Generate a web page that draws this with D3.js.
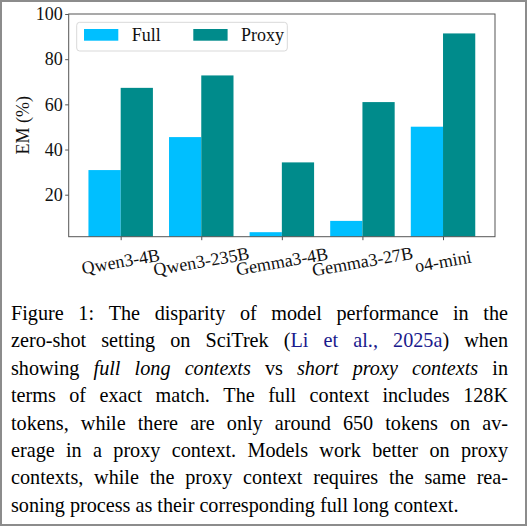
<!DOCTYPE html>
<html>
<head>
<meta charset="utf-8">
<script src="https://cdn.jsdelivr.net/npm/d3@7"></script>
<style>
  body { margin: 0; background: #fff; }
  svg { display: block; font-family: "Liberation Serif", "Times New Roman", serif; }
</style>
</head>
<body>
<div id="chart"></div>
<script>
// Chart data
var models = ["Qwen3-4B", "Qwen3-235B", "Gemma3-4B", "Gemma3-27B", "o4-mini"];
var fullScores = [30.9, 45.5, 3.4, 8.4, 50.1];
var proxyScores = [67.3, 72.8, 34.3, 61.0, 91.4];
var seriesNames = ["Full", "Proxy"];
var seriesColors = ["#00bfff", "#008b8b"];
var yTicks = [20, 40, 60, 80, 100];

// Caption lines: *...* italic, {...} citation link
var captionLines = [
  "Figure 1: The disparity of model performance in the",
  "zero-shot setting on SciTrek ({Li et al., 2025a}) when",
  "showing *full long contexts* vs *short proxy contexts* in",
  "terms of exact match. The full context includes 128K",
  "tokens, while there are only around 650 tokens on av-",
  "erage in a proxy context. Models work better on proxy",
  "contexts, while the proxy context requires the same rea-",
  "soning process as their corresponding full long context."
];

var svgWidth = 527;
var svgHeight = 526;

var margin = { top: 14, right: 32, bottom: 289.3, left: 68.7 };
var chartWidth = svgWidth - margin.left - margin.right;
var chartHeight = svgHeight - margin.top - margin.bottom;

var svg = d3.select("#chart")
  .append("svg")
  .attr("width", svgWidth)
  .attr("height", svgHeight);

// outer frame of the figure
svg.append("rect")
  .attr("x", 1).attr("y", 1)
  .attr("width", svgWidth - 2).attr("height", svgHeight - 2)
  .attr("fill", "#fff")
  .attr("stroke", "#8c8c8c")
  .attr("stroke-width", 2);

var chartGroup = svg.append("g")
  .attr("transform", `translate(${margin.left}, ${margin.top})`);

// scales
var xScale = d3.scalePoint()
  .domain(models)
  .range([0, chartWidth])
  .padding(0.645);

var yScale = d3.scaleLinear()
  .domain([1.4, 100])
  .range([chartHeight, 0]);

var barWidth = xScale.step() * 0.4;

var rows = models.map(function(m, i) {
  return { model: m, values: [fullScores[i], proxyScores[i]] };
});

// bars
rows.forEach(function(row) {
  row.values.forEach(function(v, s) {
    chartGroup.append("rect")
      .attr("x", xScale(row.model) + (s - 1) * barWidth)
      .attr("y", yScale(v))
      .attr("width", barWidth)
      .attr("height", yScale.range()[0] - yScale(v))
      .attr("fill", seriesColors[s]);
  });
});

var tickFont = "18px";

// left axis
var leftAxis = d3.axisLeft(yScale)
  .tickValues(yTicks)
  .tickSize(3.5)
  .tickPadding(2.5);

var yAxisG = chartGroup.append("g").call(leftAxis);
yAxisG.select(".domain").remove();
yAxisG.selectAll("line").attr("stroke", "#555");
yAxisG.selectAll("text")
  .attr("font-family", "Liberation Serif")
  .attr("font-size", tickFont)
  .attr("fill", "#111");

// bottom axis
var bottomAxis = d3.axisBottom(xScale).tickSize(3.5);
var xAxisG = chartGroup.append("g")
  .attr("transform", `translate(0, ${chartHeight})`)
  .call(bottomAxis);
xAxisG.select(".domain").remove();
xAxisG.selectAll("line").attr("stroke", "#555");
xAxisG.selectAll("text").remove();

// rotated category labels
chartGroup.selectAll(".xlab")
  .data(models)
  .enter()
  .append("text")
  .attr("class", "xlab")
  .attr("transform", d => `translate(${xScale(d)}, ${chartHeight + 24.5}) rotate(-10)`)
  .attr("text-anchor", "middle")
  .attr("dy", "0.35em")
  .attr("font-size", tickFont)
  .attr("fill", "#111")
  .text(d => d);

// frame
chartGroup.append("rect")
  .attr("width", chartWidth)
  .attr("height", chartHeight)
  .attr("fill", "none")
  .attr("stroke", "#555")
  .attr("stroke-width", 1);

// y label
chartGroup.append("text")
  .attr("transform", `translate(${-39.2}, ${chartHeight / 2}) rotate(-90)`)
  .attr("text-anchor", "middle")
  .attr("font-size", tickFont)
  .attr("fill", "#111")
  .text("EM (%)");

// legend
var legend = chartGroup.append("g")
  .attr("transform", "translate(8, 8.3)");
legend.append("rect")
  .attr("width", 210.6)
  .attr("height", 28.7)
  .attr("rx", 3)
  .attr("fill", "#fff")
  .attr("stroke", "#d9d9d9");
seriesNames.forEach(function(name, i) {
  var lx = 7.3 + i * 109.3;
  legend.append("rect")
    .attr("x", lx).attr("y", 6.7)
    .attr("width", 34.3).attr("height", 11.7)
    .attr("fill", seriesColors[i]);
  legend.append("text")
    .attr("x", lx + 47.7).attr("y", 19.2)
    .attr("font-size", tickFont)
    .attr("fill", "#111")
    .text(name);
});

// caption, justified word by word
var capLeft = 11, capRight = 508, capTop = 320, lineGap = 27.4;
var capSize = 20.2;

function parseLine(line, state) {
  var words = [];
  line.split(" ").forEach(function(w) {
    var pieces = [];
    var cur = "";
    function flush() {
      if (cur) pieces.push({ t: cur, it: state.it, link: state.link });
      cur = "";
    }
    for (var c of w) {
      if (c === "*") { flush(); state.it = !state.it; }
      else if (c === "{") { flush(); state.link = true; }
      else if (c === "}") { flush(); state.link = false; }
      else cur += c;
    }
    flush();
    words.push(pieces);
  });
  return words;
}

var capGroup = svg.append("g")
  .attr("font-size", capSize + "px")
  .attr("fill", "#000");

var spaceProbe = capGroup.append("text").text("a a");
var spaceWidth = spaceProbe.node().getComputedTextLength();
spaceProbe.text("aa");
spaceWidth -= spaceProbe.node().getComputedTextLength();
spaceProbe.remove();

var state = { it: false, link: false };
captionLines.forEach(function(line, li) {
  var words = parseLine(line, state);
  var nodes = words.map(function(pieces) {
    var t = capGroup.append("text").attr("y", capTop + li * lineGap);
    pieces.forEach(function(p) {
      t.append("tspan")
        .attr("font-style", p.it ? "italic" : null)
        .attr("fill", p.link ? "#1a1a8c" : null)
        .text(p.t);
    });
    return t;
  });
  var widths = nodes.map(n => n.node().getComputedTextLength());
  var total = d3.sum(widths);
  var last = li === captionLines.length - 1;
  var gap = last ? spaceWidth : (capRight - capLeft - total) / (nodes.length - 1);
  var cx = capLeft;
  nodes.forEach(function(n, i) {
    n.attr("x", cx);
    cx += widths[i] + gap;
  });
});
</script>
</body>
</html>
